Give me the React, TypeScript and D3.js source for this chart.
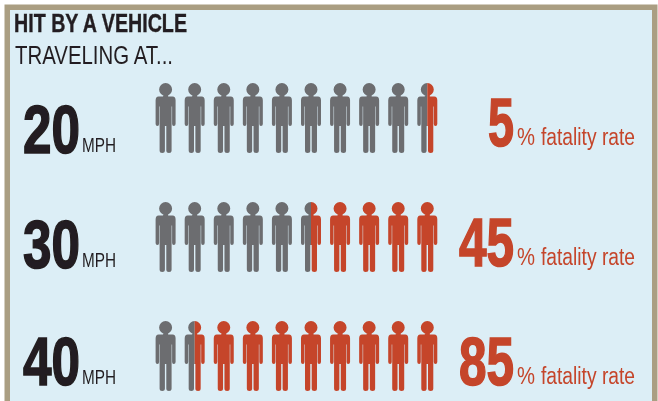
import React from "react";
import * as d3 from "d3";

const speeds = ["20", "30", "40"];
const fatalityRates = [5, 45, 85];
const peopleCount = 10;
const unitLabel = "MPH";
const rateLabel = "fatality rate";
const titleBold = "HIT BY A VEHICLE";
const titleLight = "TRAVELING AT...";

const W = 658;
const H = 401;
const GREY = "#6c6d70";
const RED = "#c5452a";
const INK = "#231f20";
const BG = "#dceef6";
const FRAME = "#aa9e82";
const NARROW = "'Liberation Sans Narrow', 'Liberation Sans', Arial, sans-serif";

const unitX = d3.scaleLinear().domain([0.5, 9.5]).range([165.6, 427.3]);
const rowY = d3.scalePoint<string>().domain(speeds).range([89.5, 327.5]);
const speedBaseline = d3.scaleOrdinal<string, number>().domain(speeds).range([153, 268, 385]);
const rateBaseline = d3.scaleOrdinal<string, number>().domain(speeds).range([146, 266, 385]);

function personPath(): string {
  const p = d3.path();
  p.moveTo(-7, 7);
  p.lineTo(7, 7);
  p.quadraticCurveTo(10, 7, 10, 11);
  p.lineTo(10, 34.5);
  p.quadraticCurveTo(10, 36.5, 8.1, 36.5);
  p.quadraticCurveTo(6.5, 36.5, 6.5, 34.5);
  p.lineTo(6.5, 17);
  p.lineTo(6, 17);
  p.lineTo(6, 61);
  p.quadraticCurveTo(6, 63.5, 3.4, 63.5);
  p.quadraticCurveTo(0.7, 63.5, 0.7, 61);
  p.lineTo(0.7, 36.5);
  p.lineTo(-0.7, 36.5);
  p.lineTo(-0.7, 61);
  p.quadraticCurveTo(-0.7, 63.5, -3.4, 63.5);
  p.quadraticCurveTo(-6, 63.5, -6, 61);
  p.lineTo(-6, 17);
  p.lineTo(-6.5, 17);
  p.lineTo(-6.5, 34.5);
  p.quadraticCurveTo(-6.5, 36.5, -8.1, 36.5);
  p.quadraticCurveTo(-10, 36.5, -10, 34.5);
  p.lineTo(-10, 11);
  p.quadraticCurveTo(-10, 7, -7, 7);
  p.closePath();
  p.moveTo(6.5, 0);
  p.arc(0, 0, 6.5, 0, Math.PI * 2);
  p.closePath();
  p.rect(-2.5, 4, 5, 4);
  return p.toString();
}

const personD = personPath();

function Crowd({ speed, rate, index }: { speed: string; rate: number; index: number }) {
  const y = rowY(speed)!;
  const split = unitX(peopleCount * (1 - rate / 100));
  const people = d3.range(peopleCount);
  const start = unitX(0);
  const end = unitX(peopleCount);
  return (
    <g>
      <defs>
        <clipPath id={`grey-${index}`}>
          <rect x={start} y={y - 10} width={split - start} height={80} />
        </clipPath>
        <clipPath id={`red-${index}`}>
          <rect x={split} y={y - 10} width={end - split} height={80} />
        </clipPath>
      </defs>
      <g clipPath={`url(#grey-${index})`}>
        {people.map((i) => (
          <path key={i} d={personD} fill={GREY} transform={`translate(${unitX(i + 0.5)},${y})`} />
        ))}
      </g>
      <g clipPath={`url(#red-${index})`}>
        {people.map((i) => (
          <path key={i} d={personD} fill={RED} transform={`translate(${unitX(i + 0.5)},${y})`} />
        ))}
      </g>
    </g>
  );
}

export default function App() {
  return (
    <svg
      width={W}
      height={H}
      viewBox={`0 0 ${W} ${H}`}
      style={{ position: "fixed", left: 0, top: 0, display: "block", background: "#fff" }}
    >
      <defs>
        <filter id="soft" x="0" y="0" width="100%" height="100%" filterUnits="userSpaceOnUse">
          <feGaussianBlur stdDeviation={0.45} />
        </filter>
      </defs>
      <rect x={4.5} y={4.5} width={653} height={H} fill={FRAME} />
      <rect x={10} y={10} width={642} height={H} fill={BG} />

      <g filter="url(#soft)">
        <text x={14} y={32} fontFamily={NARROW} fontSize={26} fontWeight={700} fill={INK} stroke={INK} strokeWidth={0.4}
          textLength={173} lengthAdjust="spacingAndGlyphs">{titleBold}</text>
        <text x={15} y={64} fontFamily={NARROW} fontSize={26} fill={INK}
          textLength={158} lengthAdjust="spacingAndGlyphs">{titleLight}</text>

        {speeds.map((speed, i) => {
          const rate = fatalityRates[i];
          const leftBase = speedBaseline(speed);
          const rightBase = rateBaseline(speed);
          const rateText = String(rate);
          const rateWidth = rateText.length > 1 ? 55 : 26;
          return (
            <g key={speed}>
              <text x={23} y={leftBase} fontFamily={NARROW} fontSize={68} fontWeight={700} fill={INK} stroke={INK} strokeWidth={1.6}
                textLength={57} lengthAdjust="spacingAndGlyphs">{speed}</text>
              <text x={82} y={leftBase - 1} fontFamily={NARROW} fontSize={21} fill={INK}
                textLength={34} lengthAdjust="spacingAndGlyphs">{unitLabel}</text>
              <Crowd speed={speed} rate={rate} index={i} />
              <text x={514 - rateWidth} y={rightBase} fontFamily={NARROW} fontSize={68} fontWeight={700} fill={RED} stroke={RED} strokeWidth={1.6}
                textLength={rateWidth} lengthAdjust="spacingAndGlyphs">{rateText}</text>
              <text x={517} y={rightBase - 1} fontFamily={NARROW} fontSize={24} fill={RED}
                textLength={18} lengthAdjust="spacingAndGlyphs">%</text>
              <text x={541} y={rightBase - 1} fontFamily={NARROW} fontSize={23} fill={RED}
                textLength={94} lengthAdjust="spacingAndGlyphs">{rateLabel}</text>
            </g>
          );
        })}
      </g>
    </svg>
  );
}
